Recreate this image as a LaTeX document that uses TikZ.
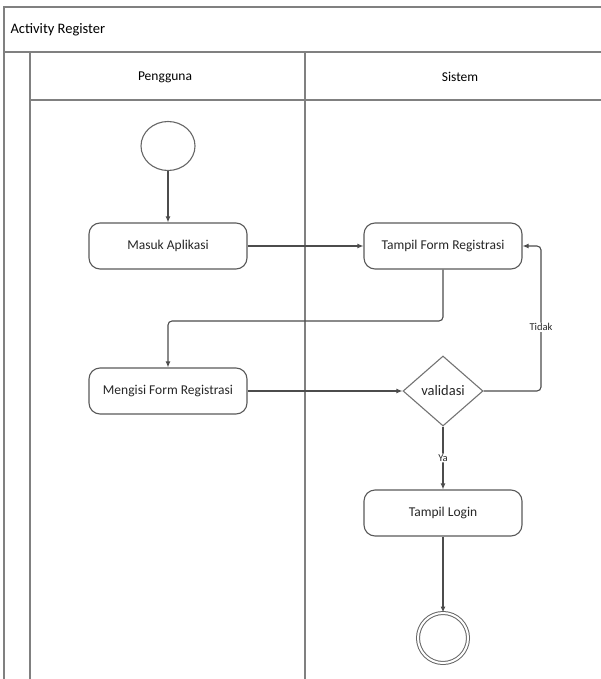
\documentclass[tikz,border=0pt]{standalone}
\usepackage{fontspec}
\setmainfont{Carlito}
\usetikzlibrary{shapes.geometric,arrows.meta}

\tikzset{
  frameline/.style={draw=black!50, line width=1.6pt},
  flowline/.style={draw=black!70, line width=1.1pt, rounded corners=4pt},
  flowarrow/.style={flowline, -{Latex[length=6pt,width=5pt]}},
  actbox/.style={draw=black!65, line width=1.1pt, rounded corners=11pt, minimum width=158pt, minimum height=46pt, font=\fontsize{13.5}{16}\selectfont, text=black!85},
  decision/.style={diamond, draw=black!55, line width=1.1pt, minimum width=80pt, minimum height=70pt, inner sep=0pt, font=\fontsize{14.5}{16}\selectfont, text=black!85},
  startnode/.style={ellipse, draw=black!60, line width=1.1pt, minimum width=54pt, minimum height=49pt},
  endnode/.style={circle, double, double distance=2pt, draw=black!60, line width=1pt, minimum size=50pt},
  guardlabel/.style={font=\fontsize{10.5}{12}\selectfont, fill=white, inner sep=1pt, text=black!85}
}

\begin{document}
\begin{tikzpicture}[x=1pt, y=-1pt]
  \useasboundingbox (0,0) rectangle (601,679);
  % swimlane frame
  \draw [frameline] (601,7) -- (4,7) -- (4,679);
  \draw [frameline] (4,52) -- (601,52);
  \draw [frameline] (30,52) -- (30,679);
  \draw [frameline] (30,100) -- (601,100);
  \draw [frameline] (305,52) -- (305,679);
  \node [anchor=west, font=\fontsize{14.5}{17}\selectfont] (title) at (7,30) {Activity Register};
  \node [font=\fontsize{13.5}{15}\selectfont] (lanePengguna) at (165,77) {Pengguna};
  \node [font=\fontsize{13.5}{15}\selectfont] (laneSistem) at (460,77) {Sistem};

  % activities
  \node [startnode] (start) at (168,146) {};
  \node [actbox] (masuk) at (168,246) {Masuk Aplikasi};
  \node [actbox] (tampilForm) at (443,246) {Tampil Form Registrasi};
  \node [actbox] (mengisi) at (168,391) {Mengisi Form Registrasi};
  \node [decision] (validasi) at (443,391) {validasi};
  \node [actbox] (tampilLogin) at (443,513) {Tampil Login};
  \node [endnode] (finish) at (443,638) {};
  \coordinate (tidakTurn) at (541,391);

  % flows
  \draw [flowarrow] (start) -- (masuk);
  \draw [flowarrow] (masuk) -- (tampilForm);
  \draw [flowarrow] (tampilForm.south) |- (168,321) -- (mengisi.north);
  \draw [flowarrow] (mengisi) -- (validasi);
  \draw [flowarrow] (validasi.east) -- (tidakTurn) |- (tampilForm.east)
    node [guardlabel, pos=0.22] {Tidak};
  \draw [flowarrow] (validasi.south) -- (tampilLogin.north)
    node [guardlabel, midway] {Ya};
  \draw [flowarrow] (tampilLogin) -- (finish);
\end{tikzpicture}
\end{document}
